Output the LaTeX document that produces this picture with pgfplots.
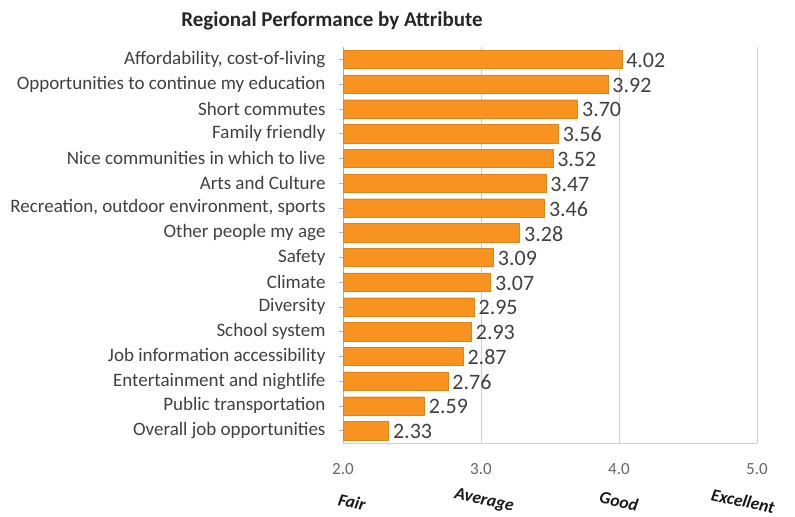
\documentclass[border=0pt]{standalone}
\usepackage{pgfplots}
\pgfplotsset{compat=1.18}
\usepackage{fontspec}
\setmainfont{Carlito}
\definecolor{barc}{HTML}{F7931E}
\definecolor{txt}{HTML}{404040}
\definecolor{gridc}{HTML}{D0D0D0}
\definecolor{axc}{HTML}{A8B8C8}
\begin{document}
\begin{tikzpicture}
\path (0,0) rectangle (795bp,517bp);
\begin{axis}[
  at={(343bp,74bp)}, anchor=south west,
  scale only axis, width=414bp, height=396bp,
  xbar, bar width=0.74,
  xmin=2, xmax=5, ymin=-0.5, ymax=15.5,
  y dir=reverse,
  xtick={2,3,4,5},
  xticklabel style={/pgf/number format/fixed,/pgf/number format/fixed zerofill,/pgf/number format/precision=1,/pgf/number format/assume math mode=true,
    font=\fontsize{17bp}{19bp}\selectfont, text=txt!80, yshift=-13bp},
  xmajorgrids, grid style={gridc, line width=0.8bp},
  major x tick style={draw=none},
  ytick={0,...,15},
  yticklabels={{Affordability, cost-of-living},Opportunities to continue my education,Short commutes,Family friendly,Nice communities in which to live,Arts and Culture,{Recreation, outdoor environment, sports},Other people my age,Safety,Climate,Diversity,School system,Job information accessibility,Entertainment and nightlife,Public transportation,Overall job opportunities},
  yticklabel style={font=\fontsize{19bp}{21bp}\selectfont, text=txt, xshift=-10bp},
  major y tick style={axc, line width=0.6bp},
  tick align=outside, major tick length=4bp,
  axis x line*=bottom, axis y line*=left,
  x axis line style={gridc, line width=0.8bp},
  y axis line style={axc, line width=0.8bp},
  nodes near coords,
  nodes near coords style={font=\fontsize{22bp}{24bp}\selectfont, text=txt, /pgf/number format/fixed, /pgf/number format/fixed zerofill, /pgf/number format/precision=2, /pgf/number format/assume math mode=true, xshift=1bp, yshift=-1bp},
  clip=false,
]
\addplot[fill=barc, draw=barc!90!black, line width=0.4bp] coordinates {
(4.02,0) (3.92,1) (3.70,2) (3.56,3) (3.52,4) (3.47,5) (3.46,6) (3.28,7)
(3.09,8) (3.07,9) (2.95,10) (2.93,11) (2.87,12) (2.76,13) (2.59,14) (2.33,15)};
\end{axis}
\node[font=\bfseries\fontsize{21bp}{23bp}\selectfont, text=black!85] at (332bp,496bp) {Regional Performance by Attribute};
\begin{scope}[every node/.style={font=\bfseries\itshape\fontsize{17.5bp}{20bp}\selectfont, text=black!90, rotate=-12, inner sep=0pt}]
\node at (352bp,15bp) {Fair};
\node at (484bp,16bp) {Average};
\node at (619bp,16bp) {Good};
\node at (743bp,16bp) {Excellent};
\end{scope}
\end{tikzpicture}
\end{document}
